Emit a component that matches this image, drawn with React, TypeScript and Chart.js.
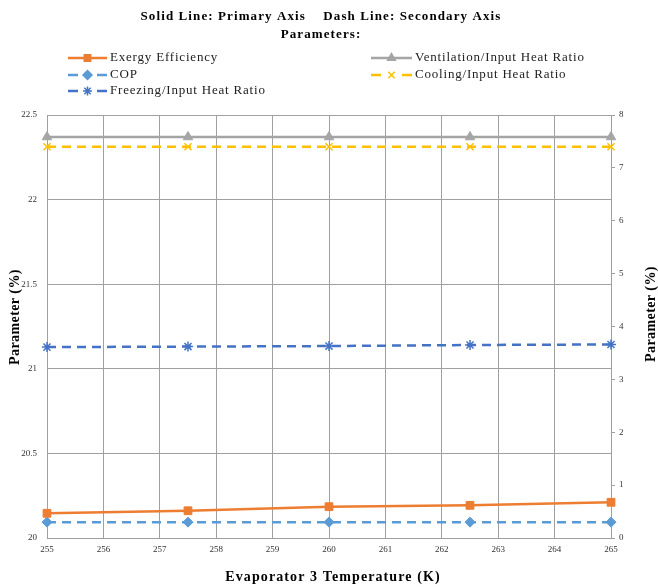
import React, { useEffect, useRef } from "react";
import { Chart, registerables } from "chart.js";
import { drawPoint } from "chart.js/helpers";

Chart.register(...registerables);

const temperatures = [255, 257.5, 260, 262.5, 265];
const exergyEfficiency = [20.146, 20.161, 20.185, 20.193, 20.211];
const ventilationRatio = [22.37, 22.37, 22.37, 22.37, 22.37];
const cop = [0.3, 0.3, 0.3, 0.3, 0.3];
const coolingRatio = [7.4, 7.4, 7.4, 7.4, 7.4];
const freezingRatio = [3.61, 3.62, 3.63, 3.65, 3.66];

const titleLine1 = "Solid Line: Primary Axis    Dash Line: Secondary Axis";
const titleLine2 = "Parameters:";
const xTitle = "Evaporator 3 Temperature (K)";
const yTitle = "Parameter (%)";
const y1Title = "Parameter (%)";

const ORANGE = "#ED7D31";
const GRAY = "#A5A5A5";
const LBLUE = "#5B9BD5";
const YELLOW = "#FFC000";
const DBLUE = "#4472C4";
const FONT = "'Liberation Serif', 'Times New Roman', serif";

const series = [
  { label: "Exergy Efficiency", data: exergyEfficiency, color: ORANGE, style: "rect", radius: 5.5, axis: "y", dash: [] as number[], fill: true },
  { label: "Ventilation/Input Heat Ratio", data: ventilationRatio, color: GRAY, style: "triangle", radius: 5.5, axis: "y", dash: [] as number[], fill: true },
  { label: "COP", data: cop, color: LBLUE, style: "rectRot", radius: 5, axis: "y1", dash: [9, 6], fill: true },
  { label: "Cooling/Input Heat Ratio", data: coolingRatio, color: YELLOW, style: "crossRot", radius: 5, axis: "y1", dash: [9, 6], fill: false },
  { label: "Freezing/Input Heat Ratio", data: freezingRatio, color: DBLUE, style: "star", radius: 5, axis: "y1", dash: [9, 6], fill: false },
];

function setSpacing(ctx: any, px: number) {
  if ("letterSpacing" in ctx) ctx.letterSpacing = px + "px";
}

const textPlugin = {
  id: "customText",
  afterDraw(chart: any) {
    const ctx = chart.ctx as CanvasRenderingContext2D;
    const area = chart.chartArea;
    ctx.save();
    ctx.fillStyle = "#000";
    ctx.textAlign = "center";
    ctx.textBaseline = "middle";
    ctx.font = `bold 13px ${FONT}`;
    setSpacing(ctx, 1.1);
    ctx.fillText(titleLine1, 321, 17);
    ctx.fillText(titleLine2, 321, 35);

    // legend
    const rows = [58, 75, 91];
    const cols = [{ x0: 68, x1: 107 }, { x0: 371, x1: 412 }];
    ctx.font = `13px ${FONT}`;
    setSpacing(ctx, 0.8);
    ctx.textAlign = "left";
    series.forEach((s, i) => {
      const col = cols[i % 2];
      const y = rows[Math.floor(i / 2)];
      ctx.strokeStyle = s.color;
      ctx.fillStyle = s.color;
      ctx.lineWidth = 2.5;
      ctx.beginPath();
      if (s.dash.length) {
        ctx.moveTo(col.x0, y);
        ctx.lineTo(col.x0 + 10, y);
        ctx.moveTo(col.x1 - 10, y);
        ctx.lineTo(col.x1, y);
      } else {
        ctx.moveTo(col.x0, y);
        ctx.lineTo(col.x1, y);
      }
      ctx.stroke();
      ctx.lineWidth = 1.5;
      drawPoint(ctx, { pointStyle: s.style, radius: 4.5, rotation: 0, borderWidth: 1.5 } as any, (col.x0 + col.x1) / 2, y);
      ctx.fillStyle = "#222";
      ctx.fillText(s.label, col.x1 + 3, y);
    });

    // axis titles
    ctx.fillStyle = "#000";
    ctx.font = `bold 14px ${FONT}`;
    setSpacing(ctx, 1.1);
    ctx.textAlign = "center";
    ctx.fillText(xTitle, (area.left + area.right) / 2 + 4, 577);
    setSpacing(ctx, 0.4);
    ctx.save();
    ctx.translate(15, 317);
    ctx.rotate(-Math.PI / 2);
    ctx.fillText(yTitle, 0, 0);
    ctx.restore();
    ctx.save();
    ctx.translate(651, 314);
    ctx.rotate(-Math.PI / 2);
    ctx.fillText(y1Title, 0, 0);
    ctx.restore();
    ctx.restore();
  },
};

export default function App() {
  const ref = useRef<HTMLCanvasElement>(null);
  useEffect(() => {
    document.body.style.margin = "0";
    const chart = new Chart(ref.current!, {
      type: "line",
      data: {
        datasets: series.map((s) => ({
          label: s.label,
          data: s.data.map((v, i) => ({ x: temperatures[i], y: v })),
          borderColor: s.color,
          backgroundColor: s.color,
          pointBackgroundColor: s.color,
          pointBorderColor: s.color,
          pointStyle: s.style as any,
          pointRadius: s.radius,
          pointBorderWidth: s.fill ? 1 : 1.5,
          borderWidth: 2.5,
          borderDash: s.dash,
          yAxisID: s.axis,
          tension: 0,
          clip: false,
        })),
      },
      options: {
        animation: false,
        responsive: false,
        layout: { padding: { top: 115, left: 0, right: 0, bottom: 0 } },
        plugins: { legend: { display: false }, title: { display: false }, tooltip: { enabled: false } },
        scales: {
          x: {
            type: "linear",
            min: 255,
            max: 265,
            ticks: { stepSize: 1, color: "#333", font: { family: FONT, size: 9 }, padding: 6, maxRotation: 0 },
            grid: { color: "#A0A0A0", lineWidth: 1, drawTicks: false },
            border: { color: "#A0A0A0" },
            afterFit: (s: any) => { s.height = 49; },
          },
          y: {
            position: "left",
            min: 20,
            max: 22.5,
            ticks: { stepSize: 0.5, color: "#333", font: { family: FONT, size: 9 }, padding: 10, callback: (v: any) => String(Number(v)) },
            grid: { color: "#A0A0A0", lineWidth: 1, drawTicks: false },
            border: { color: "#A0A0A0" },
            afterFit: (s: any) => { s.width = 47; },
          },
          y1: {
            position: "right",
            min: 0,
            max: 8,
            ticks: { stepSize: 1, color: "#333", font: { family: FONT, size: 9 }, padding: 4 },
            grid: { drawOnChartArea: false, drawTicks: true, tickLength: 4, color: "#A0A0A0" },
            border: { color: "#A0A0A0" },
            afterFit: (s: any) => { s.width = 47; },
          },
        },
      } as any,
      plugins: [textPlugin],
    });
    return () => chart.destroy();
  }, []);
  return (
    <div style={{ width: 658, height: 587, background: "#fff" }}>
      <canvas ref={ref} width={658} height={587} style={{ display: "block" }} />
    </div>
  );
}
